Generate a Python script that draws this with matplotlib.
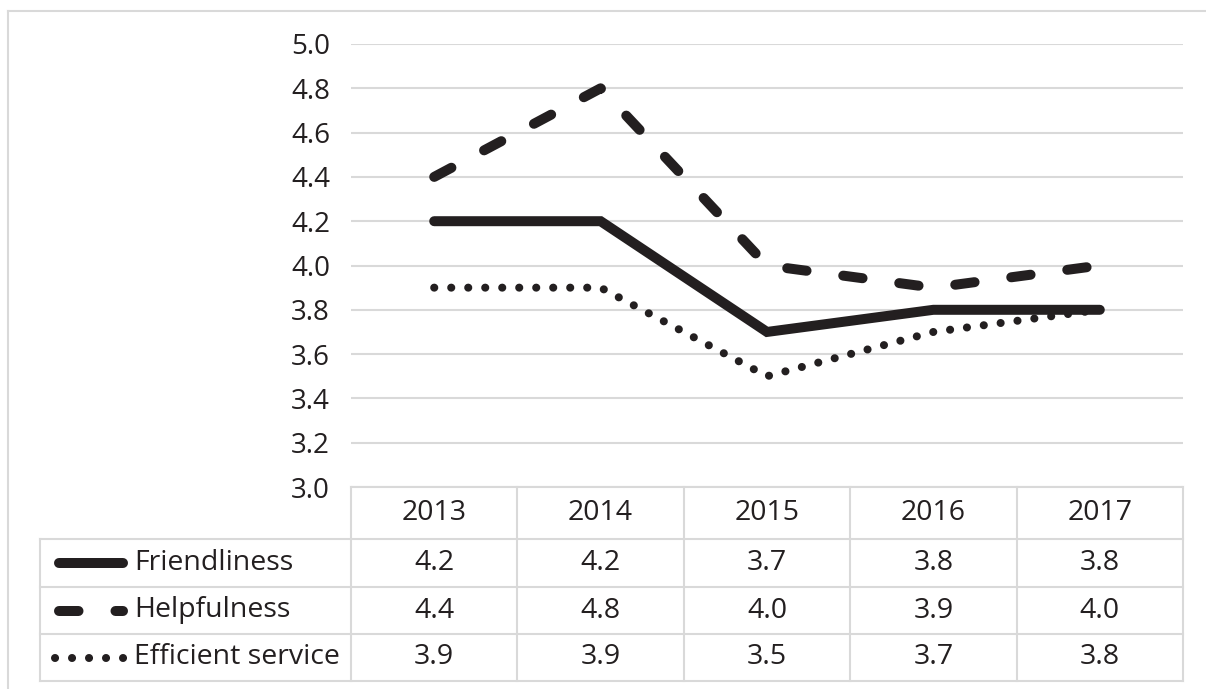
import numpy as np
import matplotlib.pyplot as plt


years = ["2013", "2014", "2015", "2016", "2017"]
series_names = ["Friendliness", "Helpfulness", "Efficient service"]
friendliness = [4.2, 4.2, 3.7, 3.8, 3.8]
helpfulness = [4.4, 4.8, 4.0, 3.9, 4.0]
efficient_service = [3.9, 3.9, 3.5, 3.7, 3.8]
y_ticks = [3.0, 3.2, 3.4, 3.6, 3.8, 4.0, 4.2, 4.4, 4.6, 4.8, 5.0]

W, H = 1206, 689
INK = "#231f20"
GRID = "#d9d9d9"

# layout in pixels (top-left origin)
PLOT_LEFT, PLOT_RIGHT = 351, 1183
PLOT_TOP, PLOT_BOTTOM = 44, 487
ROW_BOUNDS = [487, 539, 587, 634, 681]
TABLE_LEFT = 40
SAMPLE_X = [(59, 123), (59, 123), (55, 125)]
LABEL_X = 134

STYLES = [
    dict(linestyle="-", linewidth=7.2),
    dict(linestyle=(0, (1.95, 3.7)), linewidth=7.2),
    dict(linestyle=(0, (0.01, 2.1)), linewidth=5.8),
]

plt.rcParams["font.family"] = ["Open Sans", "DejaVu Sans"]


def main():
    fig = plt.figure(figsize=(W / 100, H / 100), dpi=100)

    ax = fig.add_axes([
        PLOT_LEFT / W,
        1 - PLOT_BOTTOM / H,
        (PLOT_RIGHT - PLOT_LEFT) / W,
        (PLOT_BOTTOM - PLOT_TOP) / H,
    ])
    ax.set_xlim(-0.5, len(years) - 0.5)
    ax.set_ylim(3.0, 5.0)
    ax.set_yticks(y_ticks)
    ax.set_yticklabels([f"{v:.1f}" for v in y_ticks])
    ax.tick_params(axis="y", length=0, pad=15, labelsize=20, labelcolor=INK)
    ax.set_xticks([])
    for s in ax.spines.values():
        s.set_visible(False)
    ax.grid(axis="y", color=GRID, linewidth=1.5)
    ax.set_axisbelow(True)

    x = np.arange(len(years))
    data = [friendliness, helpfulness, efficient_service]
    for values, style in zip(data, STYLES):
        ax.plot(x, values, color=INK, solid_capstyle="round",
                dash_capstyle="round", solid_joinstyle="miter", **style)

    # overlay in pixel coordinates for table and frame
    ov = fig.add_axes([0, 0, 1, 1])
    ov.set_xlim(0, W)
    ov.set_ylim(H, 0)
    ov.axis("off")
    ov.patch.set_visible(False)

    # outer frame (top and left visible)
    ov.plot([8, W + 5], [11, 11], color=GRID, linewidth=1.5)
    ov.plot([8, 8], [11, H + 5], color=GRID, linewidth=1.5)

    col_edges = np.linspace(PLOT_LEFT, PLOT_RIGHT, len(years) + 1)
    col_centers = (col_edges[:-1] + col_edges[1:]) / 2

    # horizontal table lines
    ov.plot([PLOT_LEFT, PLOT_RIGHT], [ROW_BOUNDS[0]] * 2, color=GRID, linewidth=1.5)
    for yb in ROW_BOUNDS[1:]:
        ov.plot([TABLE_LEFT, PLOT_RIGHT], [yb, yb], color=GRID, linewidth=1.5)
    # vertical table lines
    for xe in col_edges:
        ov.plot([xe, xe], [ROW_BOUNDS[0], ROW_BOUNDS[-1]], color=GRID, linewidth=1.5)
    ov.plot([TABLE_LEFT, TABLE_LEFT], [ROW_BOUNDS[1], ROW_BOUNDS[-1]],
            color=GRID, linewidth=1.5)

    # header
    header_y = (ROW_BOUNDS[0] + ROW_BOUNDS[1]) / 2
    for cx, yr in zip(col_centers, years):
        ov.text(cx, header_y, yr, ha="center", va="center", fontsize=20.5, color=INK)

    # rows
    for i, (name, values, style) in enumerate(zip(series_names, data, STYLES)):
        ry = (ROW_BOUNDS[i + 1] + ROW_BOUNDS[i + 2]) / 2
        ov.plot(SAMPLE_X[i], [ry, ry], color=INK, solid_capstyle="round",
                dash_capstyle="round", **style)
        ov.text(LABEL_X, ry, name, ha="left", va="center", fontsize=20.5, color=INK)
        for cx, v in zip(col_centers, values):
            ov.text(cx, ry, f"{v:.1f}", ha="center", va="center",
                    fontsize=20.5, color=INK)

    fig.savefig("out.png", dpi=100)
    plt.close(fig)


if __name__ == "__main__":
    main()
